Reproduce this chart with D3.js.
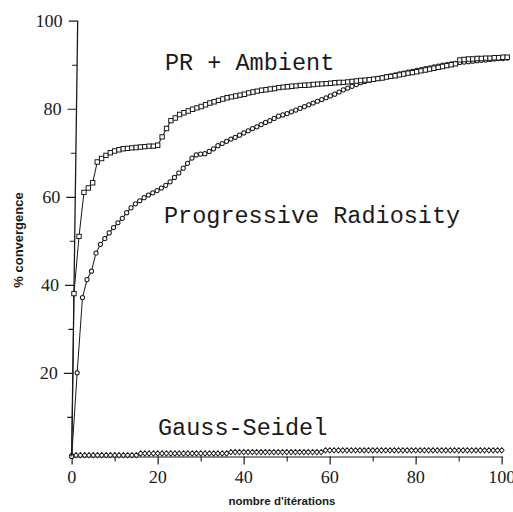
<!DOCTYPE html>
<html><head><meta charset="utf-8">
<script src="https://cdn.jsdelivr.net/npm/d3@7"></script>
<style>html,body{margin:0;padding:0;background:#fff;}svg{display:block;}</style>
</head><body>
<svg id="chart" width="513" height="512"></svg>
<script>
const iterations = d3.range(0, 101);
const originValue = 1;
const xTicks = [0, 20, 40, 60, 80, 100];
const xMinorTicks = [10, 30, 50, 70, 90];
const yTicks = [20, 40, 60, 80, 100];
const yMinorTicks = [10, 30, 50, 70, 90];
const seriesNames = ["PR + Ambient", "Progressive Radiosity", "Gauss-Seidel"];
const prAmbient = [38,51,61,62,63.2,67.9,68.7,69.4,70.0,70.4,
  70.7,70.9,71.0,71.1,71.2,71.3,71.4,71.5,71.5,71.7,
  73.6,75.5,77.3,77.9,78.7,79.1,79.5,79.9,80.2,80.5,
  80.9,81.3,81.6,81.9,82.2,82.5,82.7,82.9,83.1,83.3,
  83.6,83.8,84.0,84.2,84.3,84.5,84.6,84.8,84.9,85.0,
  85.1,85.2,85.3,85.35,85.4,85.5,85.6,85.65,85.7,85.8,
  85.9,85.95,86.0,86.1,86.2,86.3,86.4,86.5,86.6,86.7,
  86.85,87.0,87.2,87.35,87.5,87.7,87.9,88.1,88.2,88.4,
  88.6,88.8,89.0,89.2,89.4,89.6,89.8,90.0,90.2,91.1,
  91.2,91.3,91.3,91.4,91.4,91.5,91.5,91.6,91.6,91.7,91.7];
const progRadiosity = [1,20,37.1,41.2,43.1,47.2,49.2,50.5,51.8,53.0,
  54.1,55.1,56.4,57.5,58.4,59.1,59.8,60.4,60.9,61.4,
  62.0,62.6,63.4,64.4,65.4,66.5,67.6,68.8,69.5,69.7,
  69.8,70.3,70.9,71.6,72.1,72.6,73.1,73.5,74.0,74.5,
  75.0,75.5,75.9,76.4,76.9,77.3,77.8,78.3,78.6,78.9,
  79.3,79.7,80.1,80.5,80.9,81.3,81.7,82.1,82.5,82.9,
  83.3,83.8,84.3,84.7,85.1,85.5,85.9,86.2,86.5,86.7,
  86.9,87.1,87.3,87.5,87.7,87.9,88.1,88.3,88.5,88.7,
  88.9,89.1,89.3,89.5,89.7,89.9,90.0,90.2,90.3,90.5,
  90.6,90.7,90.8,90.9,91.0,91.1,91.2,91.3,91.4,91.4,91.5];
const gaussSeidel = [1.3,1.3,1.3,1.3,1.3,1.3,1.3,1.3,1.3,1.3,
  1.3,1.3,1.3,1.3,1.3,1.3,1.7,1.7,1.7,1.7,
  1.7,1.7,1.7,1.7,1.7,1.7,1.7,1.7,1.7,1.7,
  1.7,1.7,1.7,1.7,1.7,1.7,1.7,2.0,2.0,2.0,
  2.0,2.0,2.0,2.0,2.0,2.0,2.0,2.0,2.0,2.0,
  2.0,2.0,2.0,2.0,2.0,2.0,2.0,2.0,2.0,2.4,
  2.4,2.4,2.4,2.4,2.4,2.4,2.4,2.4,2.4,2.4,
  2.4,2.4,2.4,2.4,2.4,2.4,2.4,2.4,2.4,2.4,
  2.4,2.4,2.4,2.4,2.4,2.4,2.4,2.4,2.4,2.4,
  2.4,2.4,2.4,2.4,2.4,2.4,2.4,2.4,2.4,2.4,2.4];

const svg = d3.select("#chart");
const x = d3.scaleLinear().domain([0, 100]).range([71.7, 501.7]);
const y = d3.scaleLinear().domain([1, 100]).range([456.5, 20.7]);
const axisY0 = y.range()[0];

// scanned-page skew
const plot = svg.append("g")
  .attr("transform", `translate(0,${axisY0}) skewX(-0.79) translate(0,${-axisY0})`);

const serif = "'Liberation Serif','Times New Roman',serif";
const ink = "#1a1a1a";

// Y axis
const yAxis = plot.append("g").attr("transform", `translate(${x(0)},0)`)
  .call(d3.axisLeft(y).tickValues(yTicks).tickSize(9).tickPadding(6).tickSizeOuter(0));
yAxis.select(".domain").attr("stroke", ink).attr("stroke-width", 1.3)
  .attr("d", `M0,${axisY0}V${y(100)}`);
yAxis.selectAll(".tick line").attr("stroke", ink).attr("stroke-width", 1.2);
yAxis.selectAll(".tick text").attr("font-family", serif).attr("font-size", 18).attr("fill", ink).attr("dy", "0.33em");
const yMinor = plot.append("g").attr("transform", `translate(${x(0)},0)`)
  .call(d3.axisLeft(y).tickValues(yMinorTicks).tickSize(5).tickFormat(""));
yMinor.select(".domain").remove();
yMinor.selectAll(".tick line").attr("stroke", ink).attr("stroke-width", 1.1);

// X axis
const xAxis = plot.append("g").attr("transform", `translate(0,${axisY0})`)
  .call(d3.axisBottom(x).tickValues(xTicks).tickSize(8).tickPadding(6).tickSizeOuter(0));
xAxis.select(".domain").attr("stroke", ink).attr("stroke-width", 1.2);
xAxis.selectAll(".tick line").attr("stroke", ink).attr("stroke-width", 1.2);
xAxis.selectAll(".tick text").attr("font-family", serif).attr("font-size", 18).attr("fill", ink).attr("dy", "0.72em");
const xMinor = plot.append("g").attr("transform", `translate(0,${axisY0})`)
  .call(d3.axisBottom(x).tickValues(xMinorTicks).tickSize(5).tickFormat(""));
xMinor.select(".domain").remove();
xMinor.selectAll(".tick line").attr("stroke", ink).attr("stroke-width", 1.1);

const line = d3.line().x(d => x(d[0])).y(d => y(d[1]));

function drawSeries(values, withOrigin, marker) {
  const pts = iterations.map((it, i) => [it, values[i]]);
  const linePts = withOrigin ? [[0, originValue]].concat(pts) : pts;
  plot.append("path").datum(linePts).attr("d", line)
    .attr("fill", "none").attr("stroke", ink).attr("stroke-width", 1);
  const g = plot.append("g");
  marker(g.selectAll("m").data(pts).enter());
}

// Gauss-Seidel
drawSeries(gaussSeidel, false, sel => sel.append("path")
  .attr("d", d3.symbol(d3.symbolDiamond, 13))
  .attr("transform", d => `translate(${x(d[0])},${y(d[1])}) scale(1.2,0.8)`)
  .attr("fill", "#fff").attr("stroke", ink).attr("stroke-width", 0.9));

// Progressive Radiosity (circles)
drawSeries(progRadiosity, false, sel => sel.append("circle")
  .attr("cx", d => x(d[0])).attr("cy", d => y(d[1])).attr("r", 2.1)
  .attr("fill", "#fff").attr("stroke", ink).attr("stroke-width", 1));

// PR + Ambient (squares)
drawSeries(prAmbient, true, sel => sel.append("rect")
  .attr("x", d => x(d[0]) - 2.2).attr("y", d => y(d[1]) - 2.2)
  .attr("width", 4.4).attr("height", 4.4)
  .attr("fill", "#fff").attr("stroke", ink).attr("stroke-width", 1));

// Series labels
const mono = "'Liberation Mono','DejaVu Sans Mono',monospace";
const labelPos = [[165, 70], [164, 223], [158, 435]];
svg.append("g").selectAll("text").data(seriesNames).enter().append("text")
  .attr("x", (d, i) => labelPos[i][0]).attr("y", (d, i) => labelPos[i][1])
  .attr("font-family", mono).attr("font-size", 23.5).attr("fill", ink)
  .text(d => d);

// Axis titles
const sans = "'Liberation Sans',Arial,sans-serif";
svg.append("text").attr("x", 282).attr("y", 505).attr("text-anchor", "middle")
  .attr("font-family", sans).attr("font-weight", "bold").attr("font-size", 11.5).attr("fill", ink)
  .text("nombre d'itérations");
svg.append("text").attr("transform", "translate(23,240) rotate(-90)").attr("text-anchor", "middle")
  .attr("font-family", sans).attr("font-weight", "bold").attr("font-size", 13).attr("fill", ink)
  .text("% convergence");
</script>
</body></html>
